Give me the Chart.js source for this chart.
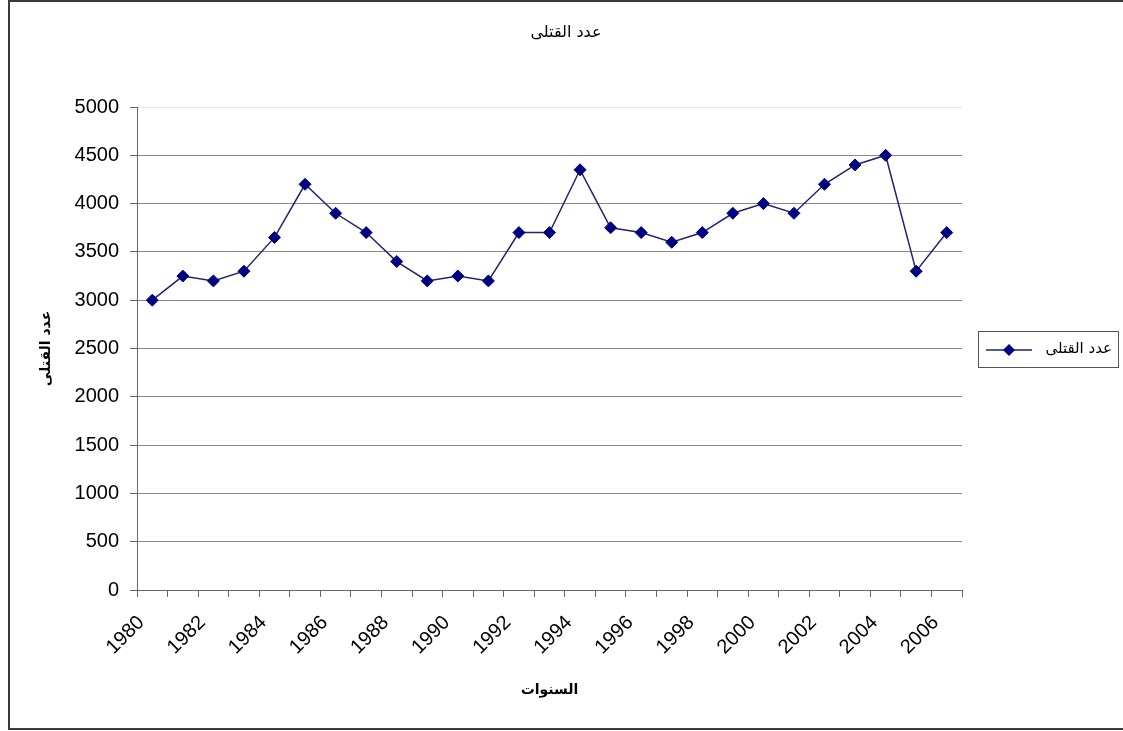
<!DOCTYPE html>
<html>
<head>
<meta charset="utf-8">
<title>عدد القتلى</title>
<script src="https://cdn.jsdelivr.net/npm/chart.js@4/dist/chart.umd.min.js"></script>
<style>
    html, body { margin: 0; padding: 0; background: #fff; }
    canvas { display: block; }
</style>
</head>
<body>
<canvas id="myLine" width="1123" height="731"></canvas>
<script>
// بيانات الرسم
const years = ['1980', '1981', '1982', '1983', '1984', '1985', '1986', '1987', '1988', '1989',
    '1990', '1991', '1992', '1993', '1994', '1995', '1996', '1997', '1998', '1999',
    '2000', '2001', '2002', '2003', '2004', '2005', '2006'];
const killed = [3000, 3250, 3200, 3300, 3650, 4200, 3900, 3700, 3400, 3200,
    3250, 3200, 3700, 3700, 4350, 3750, 3700, 3600, 3700, 3900,
    4000, 3900, 4200, 4400, 4500, 3300, 3700];
const yTicks = [0, 500, 1000, 1500, 2000, 2500, 3000, 3500, 4000, 4500, 5000];

const seriesName = 'عدد القتلى';
const chartTitle = 'عدد القتلى';
const xTitle = 'السنوات';
const yTitle = 'عدد القتلى';

const latin = "'Liberation Sans', Arial, sans-serif";
const arabic = "'DejaVu Sans', 'Liberation Sans', sans-serif";

/**
 * frame, title + legend box (Excel style)
 */
const excelFrame = {
    id: 'excelFrame',
    afterDraw(chart) {
        const ctx = chart.ctx;
        ctx.save();
        // outer frame
        ctx.strokeStyle = '#3a3a3a';
        ctx.lineWidth = 2;
        ctx.strokeRect(9, 1, 1125, 728);

        // title, centred on the whole picture like Excel does
        ctx.fillStyle = '#000';
        ctx.font = '16px ' + arabic;
        ctx.textAlign = 'center';
        ctx.textBaseline = 'middle';
        ctx.fillText(chartTitle, 566, 33);

        // legend
        const ds = chart.data.datasets[0];
        ctx.strokeStyle = '#555';
        ctx.lineWidth = 1;
        ctx.strokeRect(978.5, 331.5, 140, 36);
        ctx.strokeStyle = ds.borderColor;
        ctx.lineWidth = 1.5;
        ctx.beginPath();
        ctx.moveTo(986, 350);
        ctx.lineTo(1032, 350);
        ctx.stroke();
        ctx.fillStyle = ds.pointBackgroundColor;
        ctx.beginPath();
        ctx.moveTo(1009, 344);
        ctx.lineTo(1015, 350);
        ctx.lineTo(1009, 356);
        ctx.lineTo(1003, 350);
        ctx.closePath();
        ctx.fill();
        ctx.fillStyle = '#000';
        ctx.font = '15px ' + arabic;
        ctx.textAlign = 'right';
        ctx.fillText(ds.label, 1112, 349);
        ctx.restore();
    }
};

const lineData = {
    labels: years,
    datasets: [{
        label: seriesName,
        data: killed,
        borderColor: '#22226e',
        borderWidth: 1.5,
        pointStyle: 'rectRot',
        pointRadius: 6,
        pointBackgroundColor: '#000080',
        pointBorderColor: '#000080',
        pointBorderWidth: 1,
        tension: 0,
        fill: false
    }]
};

const lineConfig = {
    type: 'line',
    data: lineData,
    plugins: [excelFrame],
    options: {
        responsive: false,
        animation: false,
        layout: {
            padding: { top: 107, left: 0, right: 161, bottom: 0 }
        },
        plugins: {
            legend: { display: false },
            tooltip: { enabled: false },
            title: { display: false }
        },
        scales: {
            x: {
                offset: true,
                afterFit(scale) { scale.height = 141; },
                grid: {
                    offset: true,
                    drawOnChartArea: false,
                    drawTicks: true,
                    tickLength: 7,
                    color: '#666'
                },
                border: { color: '#666', width: 1 },
                ticks: {
                    autoSkip: false,
                    minRotation: 45,
                    maxRotation: 45,
                    padding: 14,
                    labelOffset: -11,
                    color: '#000',
                    font: { family: latin, size: 20 },
                    callback: function (value, index) {
                        return index % 2 === 0 ? this.getLabelForValue(value) : '';
                    }
                },
                title: {
                    display: true,
                    text: xTitle,
                    color: '#000',
                    font: { family: arabic, size: 14, weight: 'bold' },
                    padding: { top: 4, bottom: 32 }
                }
            },
            y: {
                min: 0,
                max: 5000,
                afterFit(scale) { scale.width = 137; },
                afterBuildTicks(scale) {
                    scale.ticks = yTicks.map(v => ({ value: v }));
                },
                grid: {
                    color: ctx => (ctx.tick && ctx.tick.value === 5000) ? '#e6e6e6' : '#8a8a8a',
                    tickColor: '#666',
                    tickLength: 7,
                    lineWidth: 1
                },
                border: { color: '#666', width: 1 },
                ticks: {
                    padding: 11,
                    color: '#000',
                    font: { family: latin, size: 20 },
                    callback: value => String(value)
                },
                title: {
                    display: true,
                    text: yTitle,
                    color: '#000',
                    font: { family: arabic, size: 14, weight: 'bold' },
                    padding: { top: 38, bottom: 0 }
                }
            }
        }
    }
};

var myLine = new Chart(
    document.getElementById('myLine'),
    lineConfig
);
</script>
</body>
</html>
